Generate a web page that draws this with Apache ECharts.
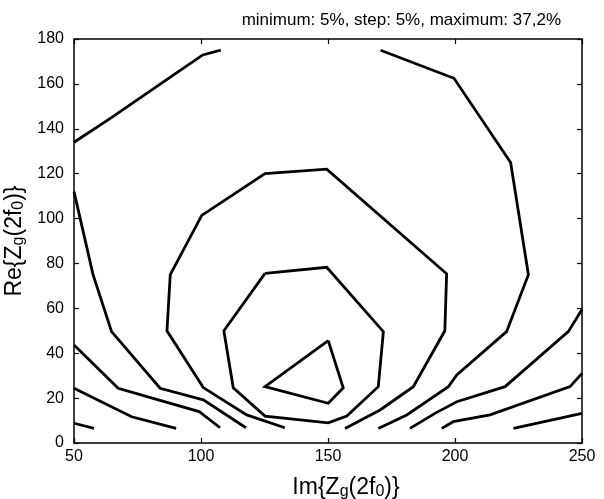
<!DOCTYPE html>
<html>
<head>
<meta charset="utf-8">
<script src="https://cdn.jsdelivr.net/npm/echarts@6/dist/echarts.min.js"></script>
<style>
html,body{margin:0;padding:0;background:#fff;}
#c{width:604px;height:499px;}
</style>
</head>
<body>
<div id="c"></div>
<script>
// Axis setup
const xMin = 50, xMax = 250, xStep = 50;
const yMin = 0, yMax = 180, yStep = 20;
const titleText = 'minimum: 5%, step: 5%, maximum: 37,2%';

// Contour polylines, [Im, Re] pairs
const outerTopLeft = [[50,134],[64,144.4],[94.4,168],[100.7,172.9],[107.8,175]];
const outerRight = [[170.7,175],[199.6,162.5],[221.9,125],[228.9,75],[220.3,49.6],[200.7,30.3],[197.4,25.1],[181,12.5],[169.8,6.5]];
const outerLeft = [[50,112],[57.5,75],[64.8,49.6],[83.9,24.4],[100.9,19.2],[117.7,6.8]];
const leftLine2 = [[50,43.7],[67.4,24.4],[83.2,19.2],[99.3,14],[107.5,6.8]];
const leftLine3 = [[50,24.4],[72.7,11.7],[90.2,6.5]];
const leftLine4 = [[50,8.8],[57.9,6.5]];
const ring2 = [[133,6.8],[118,12.5],[100.9,24.7],[86.6,50],[87.9,75],[100.3,101.4],[125.2,120],[149.5,122],[196.7,75.4],[196,50],[183.6,25.1],[170.5,14.7],[156.7,6.5]];
const ring3 = [[125.2,75.6],[149.5,78.3],[171.8,49.6],[169.8,25.1],[157.4,12],[150.1,9],[125.2,12],[112.7,24.6],[109,50],[125.2,75.6]];
const triangle = [[150.1,45.6],[156,24.6],[150.1,17.7],[125.2,25.1],[150.1,45.6]];
const rightLine2 = [[182.3,6.5],[192.1,13.2],[200.7,18.4],[219.7,25.1],[244.6,49.6],[250,59.5]];
const rightLine3 = [[194.8,6.5],[199.3,9.5],[213.8,12.5],[245.3,25.1],[250,31]];
const rightLine4 = [[223,6.5],[250,13.2]];

const contours = [outerTopLeft, outerRight, outerLeft, leftLine2, leftLine3, leftLine4,
  ring2, ring3, triangle, rightLine2, rightLine3, rightLine4];

const FONT = 'Liberation Sans, Arial, Helvetica, sans-serif';
const chart = echarts.init(document.getElementById('c'), null, {renderer: 'canvas'});

const axisCommon = {
  axisLine: {show: true, onZero: false, lineStyle: {color: '#000', width: 1.5}},
  axisTick: {show: true, inside: true, length: 5, lineStyle: {color: '#000', width: 1.2}},
  splitLine: {show: false}
};
const richSub = {
  sub: {fontSize: 16, fontFamily: FONT, color: '#000', verticalAlign: 'bottom', padding: [8, 0, 0, 0]}
};

const option = {
  backgroundColor: '#fff',
  animation: false,
  title: {
    text: titleText,
    right: 38, top: 7,
    textStyle: {fontSize: 17, fontWeight: 'normal', fontFamily: FONT, color: '#000'}
  },
  grid: {left: 74, right: 22, top: 39, bottom: 56, outerBoundsMode: 'none', containLabel: false},
  xAxis: [
    Object.assign({
      type: 'value', min: xMin, max: xMax, interval: xStep, position: 'bottom',
      axisLabel: {show: true, color: '#000', fontSize: 16, fontFamily: FONT, margin: 6},
      name: 'Im{Z{sub|g}(2f{sub|0})}',
      nameLocation: 'middle', nameGap: 33,
      nameTextStyle: {fontSize: 23, fontFamily: FONT, color: '#000', rich: richSub, padding: [0, 0, 0, 36]}
    }, axisCommon),
    Object.assign({
      type: 'value', min: xMin, max: xMax, interval: xStep, position: 'top',
      axisLabel: {show: false}
    }, axisCommon)
  ],
  yAxis: [
    Object.assign({
      type: 'value', min: yMin, max: yMax, interval: yStep, position: 'left',
      axisLabel: {show: true, color: '#000', fontSize: 16, fontFamily: FONT, margin: 10},
      name: 'Re{Z{sub|g}(2f{sub|0})}',
      nameLocation: 'middle', nameGap: 39, nameRotate: 90,
      nameTextStyle: {fontSize: 23, fontFamily: FONT, color: '#000', rich: richSub}
    }, axisCommon),
    Object.assign({
      type: 'value', min: yMin, max: yMax, interval: yStep, position: 'right',
      axisLabel: {show: false}
    }, axisCommon)
  ],
  series: contours.map(function (pts) {
    return {
      type: 'line', xAxisIndex: 0, yAxisIndex: 0,
      data: pts, symbol: 'none', silent: true,
      lineStyle: {color: '#000', width: 2.8, join: 'miter'}
    };
  })
};
chart.setOption(option);
</script>
</body>
</html>
